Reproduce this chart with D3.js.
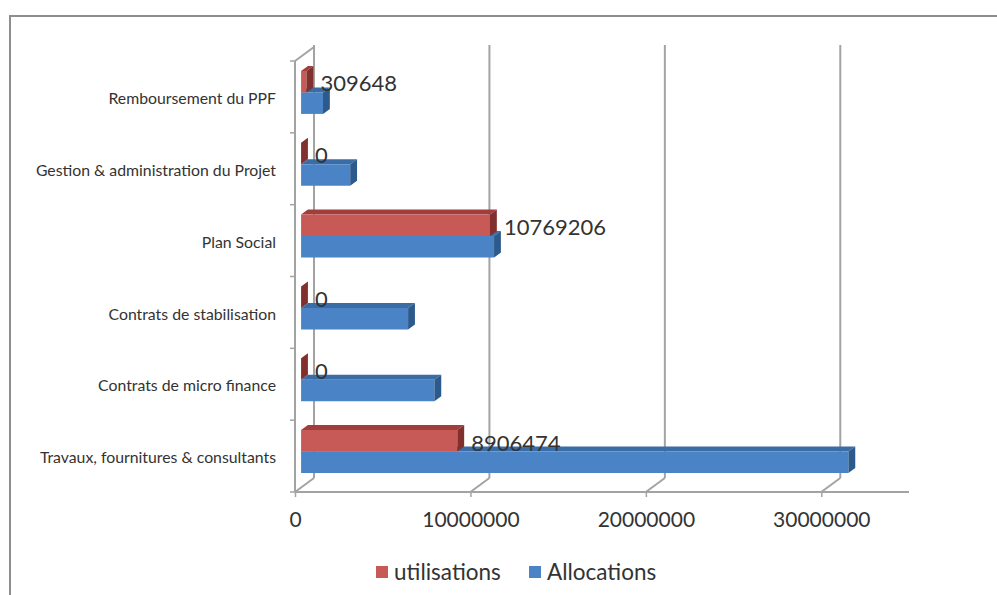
<!DOCTYPE html>
<html>
<head>
<meta charset="utf-8">
<script src="https://cdn.jsdelivr.net/npm/d3@7"></script>
<style>
  body { margin: 0; background: #fff; }
  svg { display: block; font-family: Lato, "Open Sans", sans-serif; }
</style>
</head>
<body>
<svg id="chart" width="997" height="595"></svg>
<script>
// Budget lines, top to bottom as drawn
const categories = [
  "Remboursement du PPF",
  "Gestion & administration du Projet",
  "Plan Social",
  "Contrats de stabilisation",
  "Contrats de micro finance",
  "Travaux, fournitures & consultants"
];
const utilisations = [309648, 0, 10769206, 0, 0, 8906474];
const allocations  = [1250000, 2800000, 11000000, 6100000, 7600000, 31200000];
const seriesNames  = ["utilisations", "Allocations"];
const xTicks       = [0, 10000000, 20000000, 30000000];
const xMax         = 35000000;

const svg = d3.select("#chart");

// outer frame
svg.append("rect")
  .attr("x", 10).attr("y", 16).attr("width", 1000).attr("height", 600)
  .attr("fill", "none").attr("stroke", "#8e8e8e").attr("stroke-width", 2);

// front plane scales + depth offset for the 3D box
const x = d3.scaleLinear().domain([0, xMax]).range([295, 909]);
const y = d3.scaleBand().domain(categories).range([61, 492]);
const DX = 19, DY = -14;           // full depth of the floor / side wall
const Z0 = 0.32, Z1 = 0.68;        // bar front / back within the depth
const P = (xv, yp, z) => [x(xv) + DX * z, yp + DY * z];

const inner = d3.scaleBand().domain(seriesNames).range([-21.5, 21.5]);

const gridColor = "#a3a3a3";
const g = svg.append("g");

// back wall gridlines
g.selectAll("line.grid").data(xTicks).join("line")
  .attr("class", "grid")
  .attr("x1", d => P(d, y.range()[0], 1)[0]).attr("y1", d => P(d, y.range()[0], 1)[1] - 2)
  .attr("x2", d => P(d, y.range()[1], 1)[0]).attr("y2", d => P(d, y.range()[1], 1)[1])
  .attr("stroke", gridColor).attr("stroke-width", 2);

// side wall edges
const yTop = y.range()[0], yBot = y.range()[1];
const edges = [
  [P(0, yTop, 0), P(0, yBot, 0)],
  [P(0, yTop, 0), P(0, yTop, 1)],
  [P(0, yBot, 0), P(0, yBot, 1)],
  [P(0, yBot, 0), P(xMax, yBot, 0)]
];
xTicks.filter(t => t > 0).forEach(t => edges.push([P(t, yBot, 0), P(t, yBot, 1)]));
g.selectAll("line.edge").data(edges).join("line")
  .attr("class", "edge")
  .attr("x1", d => d[0][0]).attr("y1", d => d[0][1])
  .attr("x2", d => d[1][0]).attr("y2", d => d[1][1])
  .attr("stroke", gridColor).attr("stroke-width", 2);

// category boundary ticks on the front axis
const bounds = categories.map(c => y(c)).concat([yBot]);
g.selectAll("line.ctick").data(bounds).join("line")
  .attr("class", "ctick")
  .attr("x1", x(0) - 5).attr("x2", x(0))
  .attr("y1", d => d).attr("y2", d => d)
  .attr("stroke", gridColor).attr("stroke-width", 1.5);

// value axis along the front edge of the floor
const xAxis = svg.append("g")
  .attr("transform", `translate(0,${yBot})`)
  .call(d3.axisBottom(x).tickValues(xTicks).tickFormat(d3.format("d")).tickSize(5).tickPadding(15));
xAxis.select(".domain").remove();
xAxis.selectAll(".tick line").attr("stroke", gridColor).attr("stroke-width", 1.5);
xAxis.selectAll(".tick text").attr("font-size", 21).attr("fill", "#333").attr("font-family", "Lato");

// category axis labels
const yAxis = svg.append("g")
  .attr("transform", `translate(${x(0)},0)`)
  .call(d3.axisLeft(y).tickSize(0).tickPadding(19));
yAxis.select(".domain").remove();
yAxis.selectAll(".tick text").attr("font-size", 15.8).attr("fill", "#333")
  .attr("dy", "0.45em").attr("font-family", "Lato");

// 3D bars
const palette = {
  utilisations: { front: "#c75a57", top: "#a13e3c", side: "#82302e" },
  Allocations:  { front: "#4a84c6", top: "#3a6ca6", side: "#2c5a8c" }
};
const rows = categories.map((c, i) => ({ cat: c, utilisations: utilisations[i], Allocations: allocations[i] }));

const poly = pts => pts.map(p => p.join(",")).join(" ");
const barsG = svg.append("g");
rows.forEach(r => {
  const cy = y(r.cat) + y.bandwidth() / 2;
  // blue lower bar first, red upper bar over it
  ["Allocations", "utilisations"].forEach(s => {
    const v = r[s];
    const yt = cy + inner(s), yb = yt + inner.bandwidth();
    const col = palette[s];
    const bg = barsG.append("g");
    bg.append("polygon").attr("fill", col.top)
      .attr("points", poly([P(0, yt, Z0), P(v, yt, Z0), P(v, yt, Z1), P(0, yt, Z1)]));
    bg.append("polygon").attr("fill", col.front)
      .attr("points", poly([P(0, yt, Z0), P(v, yt, Z0), P(v, yb, Z0), P(0, yb, Z0)]));
    bg.append("polygon").attr("fill", col.side)
      .attr("points", poly([P(v, yt, Z0), P(v, yt, Z1), P(v, yb, Z1), P(v, yb, Z0)]));
  });
});

// value labels for utilisations
svg.append("g").selectAll("text").data(rows).join("text")
  .attr("x", d => P(d.utilisations, 0, Z0)[0] + 14)
  .attr("y", d => y(d.cat) + y.bandwidth() / 2 + inner("utilisations") + inner.bandwidth() / 2 + DY * Z0 + 2)
  .attr("dy", "0.35em")
  .attr("font-size", 22).attr("fill", "#333")
  .text(d => d.utilisations);

// legend
const legend = svg.append("g");
const legendItems = [
  { name: "utilisations", x: 376, color: palette.utilisations.front },
  { name: "Allocations", x: 529, color: palette.Allocations.front }
];
legendItems.forEach(it => {
  legend.append("rect").attr("x", it.x).attr("y", 566).attr("width", 12).attr("height", 12).attr("fill", it.color);
  legend.append("text").attr("x", it.x + 18).attr("y", 572).attr("dy", "0.35em")
    .attr("font-size", 22.5).attr("fill", "#333").text(it.name);
});
</script>
</body>
</html>
